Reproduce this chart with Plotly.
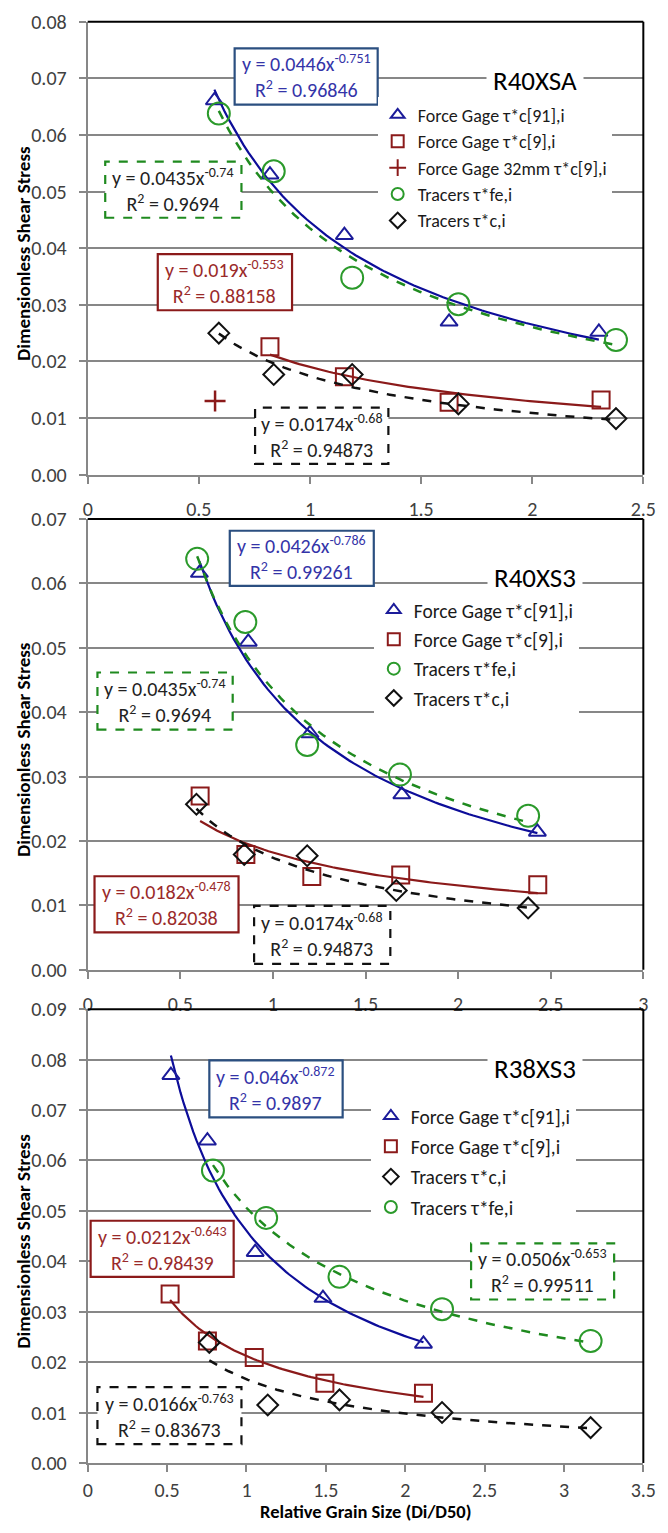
import numpy as np
import plotly.graph_objects as go

W, H = 668, 1533
FONT = "Carlito, Lato, sans-serif"

# ---------------- data ----------------
# Panel 1: R40XSA
p1_fg91_x = [0.57, 0.82, 1.155, 1.626, 2.30]
p1_fg91_y = [0.0661, 0.0530, 0.0423, 0.0270, 0.0252]
p1_fg9_x = [0.82, 1.155, 1.626, 2.31]
p1_fg9_y = [0.0226, 0.0173, 0.0128, 0.0132]
p1_fg32_x = [0.573]
p1_fg32_y = [0.0130]
p1_tfe_x = [0.59, 0.837, 1.19, 1.668, 2.377]
p1_tfe_y = [0.0638, 0.0536, 0.0348, 0.0301, 0.0238]
p1_tc_x = [0.59, 0.837, 1.19, 1.668, 2.377]
p1_tc_y = [0.0250, 0.0177, 0.0177, 0.0125, 0.0099]

# Panel 2: R40XS3
p2_fg91_x = [0.603, 0.867, 1.20, 1.696, 2.428]
p2_fg91_y = [0.0616, 0.0509, 0.0367, 0.0272, 0.0214]
p2_fg9_x = [0.607, 0.854, 1.21, 1.69, 2.43]
p2_fg9_y = [0.0270, 0.0179, 0.0145, 0.0147, 0.0132]
p2_tfe_x = [0.591, 0.851, 1.185, 1.686, 2.378]
p2_tfe_y = [0.0638, 0.0540, 0.0349, 0.0303, 0.0239]
p2_tc_x = [0.587, 0.845, 1.185, 1.666, 2.378]
p2_tc_y = [0.0257, 0.0179, 0.0177, 0.0123, 0.0096]

# Panel 3: R38XS3
p3_fg91_x = [0.524, 0.754, 1.055, 1.482, 2.115]
p3_fg91_y = [0.0769, 0.0639, 0.0418, 0.0327, 0.0236]
p3_fg9_x = [0.519, 0.754, 1.049, 1.494, 2.115]
p3_fg9_y = [0.0335, 0.0242, 0.0209, 0.0158, 0.0138]
p3_tc_x = [0.766, 1.134, 1.586, 2.232, 3.168]
p3_tc_y = [0.0239, 0.0115, 0.0125, 0.0100, 0.0070]
p3_tfe_x = [0.789, 1.124, 1.586, 2.232, 3.168]
p3_tfe_y = [0.0580, 0.0486, 0.0369, 0.0305, 0.0242]

# Power-law trendline coefficients (y = a * x^b), as printed on the chart
p1_trend_fg91 = [0.0446, -0.751]
p1_trend_fg9 = [0.019, -0.553]
p1_trend_tfe = [0.0435, -0.74]
p1_trend_tc = [0.0174, -0.68]
p2_trend_fg91 = [0.0426, -0.786]
p2_trend_fg9 = [0.0182, -0.478]
p2_trend_tfe = [0.0435, -0.74]
p2_trend_tc = [0.0174, -0.68]
p3_trend_fg91 = [0.046, -0.872]
p3_trend_fg9 = [0.0212, -0.643]
p3_trend_tc = [0.0166, -0.763]
p3_trend_tfe = [0.0506, -0.653]

# R^2 values printed on the chart
p1_r2 = {"fg91": "0.96846", "fg9": "0.88158", "tfe": "0.9694", "tc": "0.94873"}
p2_r2 = {"fg91": "0.99261", "fg9": "0.82038", "tfe": "0.9694", "tc": "0.94873"}
p3_r2 = {"fg91": "0.9897", "fg9": "0.98439", "tfe": "0.99511", "tc": "0.83673"}

panel_titles = ["R40XSA", "R40XS3", "R38XS3"]
x_ranges = [[0, 2.5], [0, 3], [0, 3.5]]
y_ranges = [[0, 0.08], [0, 0.07], [0, 0.09]]
x_ticks = [[0, 0.5, 1, 1.5, 2, 2.5], [0, 0.5, 1, 1.5, 2, 2.5, 3], [0, 0.5, 1, 1.5, 2, 2.5, 3, 3.5]]
x_ticktext = [["0", "0.5", "1", "1.5", "2", "2.5"],
              ["0", "0.5", "1", "1.5", "2", "2.5", "3"],
              ["0", "0.5", "1", "1.5", "2", "2.5", "3", "3.5"]]
y_ticks = [[0.00, 0.01, 0.02, 0.03, 0.04, 0.05, 0.06, 0.07, 0.08],
           [0.00, 0.01, 0.02, 0.03, 0.04, 0.05, 0.06, 0.07],
           [0.00, 0.01, 0.02, 0.03, 0.04, 0.05, 0.06, 0.07, 0.08, 0.09]]

NAME_FG91 = "Force Gage τ*c[91],i"
NAME_FG9 = "Force Gage τ*c[9],i"
NAME_FG32 = "Force Gage 32mm τ*c[9],i"
NAME_TFE = "Tracers τ*fe,i"
NAME_TC = "Tracers τ*c,i"

# ---------------- styles ----------------
BLUE = "#1c1c9a"
BLUE_LINE = "#0d0d99"
RED = "#8b1a1a"
GREEN = "#2b9a2b"
GREEN_LINE = "#1f8a1f"
BLACK = "#111111"
GRID = "#878787"

TICK_FS = 20
TITLE_FS = 27
EQ_FS = 20
AX_FS = 19

# layout geometry in pixels
XL, XR = 85, 656
PANELS = [(10, 470), (515, 973), (1013, 1474)]


def fx(px):
    return px / W


def fy(py):
    return 1 - py / H


fig = go.Figure()

sty = {
    "fg91": dict(symbol="triangle-up-open", size=15, color=BLUE, line=dict(width=2, color=BLUE)),
    "fg9": dict(symbol="square-open", size=17, color=RED, line=dict(width=2, color=RED)),
    "fg32": dict(symbol="cross-thin-open", size=15, color=RED, line=dict(width=2.5, color=RED)),
    "tfe": dict(symbol="circle-open", size=22, color=GREEN, line=dict(width=2, color=GREEN)),
    "tc": dict(symbol="diamond-open", size=16, color=BLACK, line=dict(width=2, color=BLACK)),
}
trend_sty = {
    "fg91": dict(color=BLUE_LINE, width=2.2),
    "fg9": dict(color=RED, width=2.2),
    "tfe": dict(color=GREEN_LINE, width=2.5, dash="dash"),
    "tc": dict(color=BLACK, width=2.5, dash="dash"),
}


def add_series(i, key, name, xs, ys, trend=None):
    xa = "x" if i == 0 else f"x{i+1}"
    ya = "y" if i == 0 else f"y{i+1}"
    lg = "legend" if i == 0 else f"legend{i+1}"
    if trend is not None:
        tx = np.linspace(min(xs), max(xs), 80)
        ty = trend[0] * tx ** trend[1]
        fig.add_trace(go.Scatter(x=tx, y=ty, mode="lines", line=trend_sty[key],
                                 xaxis=xa, yaxis=ya, showlegend=False, hoverinfo="skip"))
    fig.add_trace(go.Scatter(x=xs, y=ys, mode="markers", name=name, marker=sty[key],
                             xaxis=xa, yaxis=ya, legend=lg, legendgroup=f"{i}-{key}"))


# Panel 1
add_series(0, "fg91", NAME_FG91, p1_fg91_x, p1_fg91_y, p1_trend_fg91)
add_series(0, "fg9", NAME_FG9, p1_fg9_x, p1_fg9_y, p1_trend_fg9)
add_series(0, "fg32", NAME_FG32, p1_fg32_x, p1_fg32_y)
add_series(0, "tfe", NAME_TFE, p1_tfe_x, p1_tfe_y, p1_trend_tfe)
add_series(0, "tc", NAME_TC, p1_tc_x, p1_tc_y, p1_trend_tc)
# Panel 2
add_series(1, "fg91", NAME_FG91, p2_fg91_x, p2_fg91_y, p2_trend_fg91)
add_series(1, "fg9", NAME_FG9, p2_fg9_x, p2_fg9_y, p2_trend_fg9)
add_series(1, "tfe", NAME_TFE, p2_tfe_x, p2_tfe_y, p2_trend_tfe)
add_series(1, "tc", NAME_TC, p2_tc_x, p2_tc_y, p2_trend_tc)
# Panel 3
add_series(2, "fg91", NAME_FG91, p3_fg91_x, p3_fg91_y, p3_trend_fg91)
add_series(2, "fg9", NAME_FG9, p3_fg9_x, p3_fg9_y, p3_trend_fg9)
add_series(2, "tc", NAME_TC, p3_tc_x, p3_tc_y, p3_trend_tc)
add_series(2, "tfe", NAME_TFE, p3_tfe_x, p3_tfe_y, p3_trend_tfe)

layout = dict(
    width=W, height=H, margin=dict(l=0, r=0, t=0, b=0),
    paper_bgcolor="white", plot_bgcolor="white",
    font=dict(family=FONT, size=19, color="#222222"),
    showlegend=True,
)

for i, (top, bot) in enumerate(PANELS):
    sfx = "" if i == 0 else str(i + 1)
    layout["xaxis" + sfx] = dict(
        domain=[fx(XL), fx(XR)], range=x_ranges[i],
        tickmode="array", tickvals=x_ticks[i], ticktext=x_ticktext[i],
        anchor="y" + sfx, showline=True, linecolor=GRID, linewidth=2,
        ticks="outside", ticklen=7, tickwidth=2, tickcolor=GRID,
        showgrid=False, zeroline=False, ticklabelstandoff=8 if i < 2 else 1,
        tickfont=dict(family=FONT, size=TICK_FS, color="#404040"),
    )
    layout["yaxis" + sfx] = dict(
        domain=[fy(bot), fy(top)], range=y_ranges[i],
        tickmode="array", tickvals=y_ticks[i], ticktext=[f"{v:.2f}" for v in y_ticks[i]],
        anchor="x" + sfx, showline=True, linecolor=GRID, linewidth=2,
        ticks="outside", ticklen=7, tickwidth=2, tickcolor=GRID,
        showgrid=True, gridcolor=GRID, gridwidth=2, zeroline=False, ticklabelstandoff=8,
        tickfont=dict(family=FONT, size=TICK_FS, color="#404040"),
    )

# legend: (left px, top px, font size, group gap)
legend_cfg = [(383, 86, 18, 0), (379, 588, 19.5, 1), (376, 1102, 19.5, 2)]
for i, (lx, ly, lfs, gap) in enumerate(legend_cfg):
    key = "legend" if i == 0 else f"legend{i+1}"
    layout[key] = dict(
        x=fx(lx), y=fy(ly), xanchor="left", yanchor="top",
        bgcolor="white", borderwidth=0, itemsizing="constant",
        font=dict(family=FONT, size=lfs, color="#1a1a1a"),
        tracegroupgap=gap,
    )

fig.update_layout(**layout)

shapes = []
annotations = []

# top/right black borders of plot areas, axis titles, panel titles
for i, (top, bot) in enumerate(PANELS):
    shapes.append(dict(type="line", xref="paper", yref="paper", x0=fx(XL), x1=fx(XR),
                       y0=fy(top), y1=fy(top), line=dict(color="black", width=2), layer="above"))
    shapes.append(dict(type="line", xref="paper", yref="paper", x0=fx(XR), x1=fx(XR),
                       y0=fy(top), y1=fy(bot), line=dict(color="black", width=2), layer="above"))
    annotations.append(dict(text="<b>Dimensionless Shear Stress</b>", xref="paper", yref="paper",
                            x=fx(19), y=fy((top + bot) / 2 + 5), textangle=-90, showarrow=False,
                            xanchor="center", yanchor="middle",
                            font=dict(family=FONT, size=AX_FS, color="black")))
    annotations.append(dict(text=panel_titles[i], xref="paper", yref="paper",
                            x=fx(545), y=fy([70, 574, 1073][i]), showarrow=False,
                            xanchor="center", yanchor="middle",
                            bgcolor="white", borderpad=6,
                            font=dict(family=FONT, size=TITLE_FS, color="black")))

annotations.append(dict(text="<b>Relative Grain Size (Di/D50)</b>", xref="paper", yref="paper",
                        x=fx(371), y=fy(1523), showarrow=False, xanchor="center", yanchor="middle",
                        font=dict(family=FONT, size=18.5, color="black")))


def eq_text(a, b, r2):
    return f"y = {a}x<sup>{b}</sup><br>R<sup>2</sup> = {r2}"


def add_box(rect, trend, r2, border, text_color, dash=None):
    x0, x1, y0, y1 = rect
    shapes.append(dict(type="rect", xref="paper", yref="paper",
                       x0=fx(x0), x1=fx(x1), y0=fy(y1), y1=fy(y0),
                       fillcolor="white", layer="above",
                       line=dict(color=border, width=2.2, dash=dash or "solid")))
    annotations.append(dict(text=eq_text(trend[0], trend[1], r2), xref="paper", yref="paper",
                            x=fx((x0 + x1) / 2), y=fy((y0 + y1) / 2), showarrow=False,
                            xanchor="center", yanchor="middle",
                            align="center", font=dict(family=FONT, size=EQ_FS, color=text_color)))


EQ_BLUE_BORDER = "#2b4f80"
EQ_BLUE_TEXT = "#3434a8"
EQ_RED_TEXT = "#9a2a2a"

add_box((236, 383, 37, 94), p1_trend_fg91, p1_r2["fg91"], EQ_BLUE_BORDER, EQ_BLUE_TEXT)
add_box((103, 243, 152, 209), p1_trend_tfe, p1_r2["tfe"], GREEN_LINE, "#222222", "dash")
add_box((157, 295, 246, 303), p1_trend_fg9, p1_r2["fg9"], RED, EQ_RED_TEXT)
add_box((257, 394, 402, 459), p1_trend_tc, p1_r2["tc"], BLACK, "#222222", "dash")

add_box((231, 379, 527, 583), p2_trend_fg91, p2_r2["fg91"], EQ_BLUE_BORDER, EQ_BLUE_TEXT)
add_box((95, 234, 671, 729), p2_trend_tfe, p2_r2["tfe"], GREEN_LINE, "#222222", "dash")
add_box((92, 240, 878, 935), p2_trend_fg9, p2_r2["fg9"], RED, EQ_RED_TEXT)
add_box((256, 396, 908, 967), p2_trend_tc, p2_r2["tc"], BLACK, "#222222", "dash")

add_box((210, 347, 1065, 1123), p3_trend_fg91, p3_r2["fg91"], EQ_BLUE_BORDER, EQ_BLUE_TEXT)
add_box((88, 235, 1228, 1285), p3_trend_fg9, p3_r2["fg9"], RED, EQ_RED_TEXT)
add_box((479, 626, 1251, 1308), p3_trend_tfe, p3_r2["tfe"], GREEN_LINE, "#222222", "dash")
add_box((95, 243, 1397, 1455), p3_trend_tc, p3_r2["tc"], BLACK, "#222222", "dash")

fig.update_layout(shapes=shapes, annotations=annotations)
fig.write_html("out.html")
